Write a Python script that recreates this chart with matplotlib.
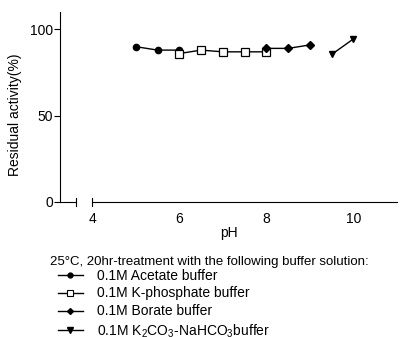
import matplotlib
matplotlib.use("Agg")
import matplotlib.pyplot as plt
from matplotlib.lines import Line2D

plt.rcParams['font.family'] = ['Liberation Sans', 'DejaVu Sans']
plt.rcParams['mathtext.default'] = 'regular'

# data
acetate_ph = [5, 5.5, 6]
acetate_act = [90, 88, 88]
phosphate_ph = [6, 6.5, 7, 7.5, 8]
phosphate_act = [86, 88, 87, 87, 87]
borate_ph = [8, 8.5, 9]
borate_act = [89, 89, 91]
carbonate_ph = [9.5, 10]
carbonate_act = [85.5, 94.5]

labels = ['0.1M Acetate buffer', '0.1M K-phosphate buffer', '0.1M Borate buffer',
          '0.1M K$_2$CO$_3$-NaHCO$_3$buffer']
x_ticks = [4, 6, 8, 10]
y_ticks = [0, 50, 100]

fig = plt.figure(figsize=(4.09, 3.37), dpi=100)
ax = fig.add_axes([0.1467, 0.4006, 0.824, 0.5634])

ax.plot(acetate_ph, acetate_act, color='black', lw=1, marker='o', ms=4.5)
ax.plot(phosphate_ph, phosphate_act, color='black', lw=1, marker='s', ms=5.5,
        mfc='white', mew=0.9)
ax.plot(borate_ph, borate_act, color='black', lw=1, marker='D', ms=4)
ax.plot(carbonate_ph, carbonate_act, color='black', lw=1, marker='v', ms=5)

xmin = 3.26
ax.set_xlim(xmin, 11.0)
ax.set_ylim(0, 110)
ax.set_xticks(x_ticks)
ax.set_yticks(y_ticks)
ax.tick_params(axis='x', length=0, pad=7, labelsize=10)
ax.tick_params(axis='y', length=4, width=0.8, pad=1, labelsize=10)
ax.spines['top'].set_visible(False)
ax.spines['right'].set_visible(False)
ax.spines['left'].set_linewidth(0.8)
ax.spines['bottom'].set_bounds(4, 11.0)
ax.spines['bottom'].set_linewidth(0.8)

# axis break on x
brk = 3.63
trans = ax.get_xaxis_transform()
ax.plot([xmin, brk], [0, 0], color='black', lw=0.8, transform=trans, clip_on=False)
for xb in [brk, 4]:
    ax.plot([xb, xb], [-0.02, 0.02], color='black', lw=0.8, transform=trans, clip_on=False)

ax.set_xlabel('pH', fontsize=10, labelpad=0)
ax.set_ylabel('Residual activity(%)', fontsize=10)
ax.yaxis.set_label_coords(-0.113, 0.46)

fig.text(0.1222, 0.222, '25\u00b0C, 20hr-treatment with the following buffer solution:',
         fontsize=9.5, va='center', ha='left')

handles = [
    Line2D([], [], color='black', lw=1, marker='o', ms=3.5),
    Line2D([], [], color='black', lw=1, marker='s', ms=4.5, mfc='white', mew=0.8),
    Line2D([], [], color='black', lw=1, marker='D', ms=3),
    Line2D([], [], color='black', lw=1, marker='v', ms=4),
]
fig.legend(handles, labels, loc='upper left', bbox_to_anchor=(0.1418, 0.203),
           frameon=False, fontsize=10, handlelength=1.8, handletextpad=1.0,
           labelspacing=0.28, borderpad=0, borderaxespad=0)

fig.savefig('out.png', dpi=100)
